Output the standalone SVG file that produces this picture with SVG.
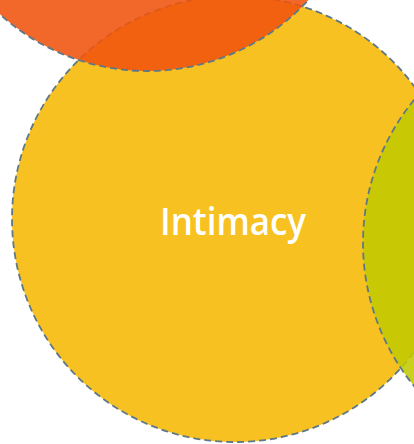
<svg xmlns="http://www.w3.org/2000/svg" width="414" height="444" viewBox="0 0 414 444">
<style>
.c{stroke:#5f7887;stroke-width:1.8;stroke-dasharray:7,4;}
.lbl{font-family:"Open Sans","Liberation Sans",sans-serif;font-weight:600;font-size:37px;fill:#ffffff;}
</style>
<rect width="414" height="444" fill="#ffffff"/>
<g id="node-intimacy">
<circle class="c" cx="235" cy="219" r="223" fill="#f7c221"/>
</g>
<g id="node-green">
<circle class="c" cx="589" cy="243" r="226" fill="#c2ca00" fill-opacity="0.88"/>
</g>
<g id="node-orange">
<circle class="c" cx="147" cy="-148" r="219" fill="#f0530c" fill-opacity="0.88"/>
</g>
<g id="labels">
<text class="lbl" x="233" y="235" text-anchor="middle" textLength="146" lengthAdjust="spacingAndGlyphs">Intimacy</text>
</g>
<g id="connectors"></g>
</svg>
